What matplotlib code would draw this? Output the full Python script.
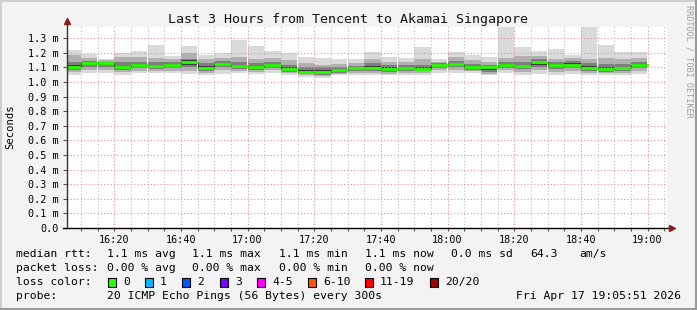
import datetime as dt

import matplotlib
matplotlib.use('Agg')
import matplotlib.dates as mdates
import matplotlib.pyplot as plt
from matplotlib.patches import Rectangle
from matplotlib.lines import Line2D

# 5-minute smoke bars, 16:05 .. 19:00 (values in ms)
rtt_med = [1.100, 1.128, 1.130, 1.100, 1.116, 1.112, 1.119, 1.139, 1.098, 1.125,
           1.112, 1.100, 1.116, 1.087, 1.071, 1.068, 1.082, 1.094, 1.098, 1.087,
           1.098, 1.091, 1.116, 1.123, 1.100, 1.100, 1.116, 1.112, 1.139, 1.116,
           1.116, 1.098, 1.091, 1.098, 1.116]
rtt_max = [1.219, 1.190, 1.160, 1.200, 1.210, 1.253, 1.180, 1.247, 1.185, 1.200,
           1.288, 1.247, 1.210, 1.200, 1.173, 1.166, 1.158, 1.160, 1.203, 1.173,
           1.162, 1.242, 1.155, 1.203, 1.185, 1.173, 1.400, 1.242, 1.212, 1.226,
           1.185, 1.400, 1.253, 1.203, 1.203]
rtt_hi = [1.185, 1.162, 1.150, 1.170, 1.170, 1.165, 1.155, 1.200, 1.160, 1.165,
          1.170, 1.160, 1.165, 1.150, 1.130, 1.120, 1.125, 1.130, 1.160, 1.140,
          1.140, 1.160, 1.140, 1.170, 1.150, 1.140, 1.165, 1.180, 1.180, 1.160,
          1.165, 1.160, 1.165, 1.160, 1.165]
rtt_q3 = [1.140, 1.146, 1.140, 1.135, 1.140, 1.140, 1.140, 1.160, 1.130, 1.145,
          1.140, 1.130, 1.140, 1.120, 1.100, 1.100, 1.105, 1.110, 1.130, 1.115,
          1.120, 1.120, 1.128, 1.145, 1.125, 1.120, 1.135, 1.140, 1.160, 1.140,
          1.145, 1.130, 1.125, 1.125, 1.140]
rtt_chi = [1.115, 1.135, 1.135, 1.110, 1.125, 1.120, 1.125, 1.148, 1.110, 1.130,
           1.120, 1.110, 1.125, 1.105, 1.085, 1.080, 1.090, 1.100, 1.110, 1.100,
           1.105, 1.100, 1.120, 1.130, 1.110, 1.105, 1.122, 1.120, 1.145, 1.125,
           1.130, 1.110, 1.105, 1.105, 1.125]
rtt_clo = [1.092, 1.115, 1.115, 1.092, 1.105, 1.100, 1.105, 1.120, 1.088, 1.112,
           1.100, 1.090, 1.105, 1.080, 1.062, 1.060, 1.072, 1.085, 1.085, 1.078,
           1.088, 1.082, 1.105, 1.110, 1.090, 1.085, 1.105, 1.100, 1.120, 1.105,
           1.105, 1.088, 1.082, 1.088, 1.105]
rtt_q1 = [1.080, 1.100, 1.100, 1.083, 1.095, 1.090, 1.095, 1.100, 1.075, 1.100,
          1.090, 1.080, 1.095, 1.070, 1.055, 1.050, 1.065, 1.075, 1.075, 1.070,
          1.078, 1.075, 1.095, 1.100, 1.085, 1.070, 1.095, 1.090, 1.100, 1.090,
          1.095, 1.075, 1.072, 1.078, 1.095]
rtt_lo = [1.066, 1.080, 1.080, 1.070, 1.075, 1.075, 1.075, 1.075, 1.060, 1.080,
          1.075, 1.070, 1.080, 1.060, 1.045, 1.040, 1.055, 1.060, 1.060, 1.058,
          1.065, 1.062, 1.080, 1.085, 1.075, 1.058, 1.080, 1.070, 1.080, 1.070,
          1.075, 1.060, 1.060, 1.062, 1.075]
rtt_min = [1.045, 1.060, 1.060, 1.050, 1.060, 1.060, 1.060, 1.055, 1.045, 1.055,
           1.060, 1.055, 1.064, 1.048, 1.036, 1.030, 1.045, 1.048, 1.050, 1.048,
           1.050, 1.050, 1.060, 1.064, 1.064, 1.050, 1.060, 1.050, 1.055, 1.050,
           1.055, 1.048, 1.048, 1.050, 1.055]

title = 'Last 3 Hours from Tencent to Akamai Singapore'
loss_labels = ['0', '1', '2', '3', '4-5', '6-10', '11-19', '20/20']
loss_colors = ['#26ff00', '#00b8ff', '#0059ff', '#7e00ff', '#ff00ff', '#ff5500', '#ff0000', '#a10000']

W, H = 697, 310
fig = plt.figure(figsize=(W / 100, H / 100), dpi=100, facecolor='#f3f3f3')


def fx(px):
    return px / W


def fy(py):
    return 1 - py / H


ax = fig.add_axes([fx(67), fy(228), fx(667) - fx(67), fy(27) - fy(228)])
ax.set_facecolor('white')

t_start = dt.datetime(2026, 4, 17, 16, 5, 51)
t_end = dt.datetime(2026, 4, 17, 19, 5, 51)
first_bar = dt.datetime(2026, 4, 17, 16, 5)
edges = [mdates.date2num(first_bar + dt.timedelta(minutes=5 * i)) for i in range(len(rtt_med) + 1)]
width = edges[1] - edges[0]
lefts = edges[:-1]

layers = [(rtt_min, rtt_max, '#dadada'),
          (rtt_lo, rtt_hi, '#b0b0b0'),
          (rtt_q1, rtt_q3, '#7e7e7e'),
          (rtt_clo, rtt_chi, '#3c3c3c')]
for lo, hi, c in layers:
    ax.bar(lefts, [h - l for l, h in zip(lo, hi)], bottom=lo, width=width,
           align='edge', color=c, linewidth=0, zorder=1)

ax.hlines(rtt_med, lefts, edges[1:], color='#26ff00', lw=2.0, zorder=4)
ax.stairs(rtt_med, edges, color='#202020', lw=0.6, baseline=None, zorder=3)

ax.set_xlim(mdates.date2num(t_start), mdates.date2num(t_end))
ax.set_ylim(0, 1.377)

ax.xaxis.set_major_locator(mdates.MinuteLocator(byminute=[0, 20, 40]))
ax.xaxis.set_minor_locator(mdates.MinuteLocator(byminute=range(0, 60, 5)))
ax.xaxis.set_major_formatter(mdates.DateFormatter('%H:%M'))
yt = [i / 10 for i in range(14)]
ax.set_yticks(yt)
ax.set_yticklabels(['0.0'] + ['%.1f m' % v for v in yt[1:]])

ax.grid(which='minor', axis='x', color='#bdbdbd', linestyle=(0, (1, 2)), lw=0.8, zorder=2)
ax.grid(which='major', axis='x', color='#f08c8c', linestyle=(0, (1, 2)), lw=0.8, zorder=2)
ax.grid(which='major', axis='y', color='#f08c8c', linestyle=(0, (1, 2)), lw=0.8, zorder=2)
ax.set_axisbelow(False)

for s in ['top', 'right', 'left', 'bottom']:
    ax.spines[s].set_visible(False)
ax.plot([0, 0], [0, 1.02], transform=ax.transAxes, color='#333333', lw=1, clip_on=False, zorder=5)
ax.plot([-0.007, 1.005], [0, 0], transform=ax.transAxes, color='black', lw=1, clip_on=False, zorder=5)
ax.plot([0], [1.03], marker='^', ms=5, color='#8b1a1a', transform=ax.transAxes, clip_on=False, zorder=6)
ax.plot([1.008], [0], marker='>', ms=5, color='#8b1a1a', transform=ax.transAxes, clip_on=False, zorder=6)

mono = 'DejaVu Sans Mono'
ax.tick_params(axis='y', length=3, width=0.8, color='#555555', labelsize=7.3, pad=3)
ax.tick_params(axis='x', which='both', length=2, width=0.8, color='#555555', labelsize=7.3, pad=3)
for lab in ax.get_xticklabels() + ax.get_yticklabels():
    lab.set_fontfamily(mono)

fig.text(fx(348), fy(19), title, family=mono, fontsize=9.6, ha='center', va='center', color='#111111')
fig.text(fx(10), fy(127), 'Seconds', family=mono, fontsize=7.6, rotation=90, ha='center', va='center')
fig.text(fx(689), fy(5), 'RRDTOOL / TOBI OETIKER', family=mono, fontsize=6.1, rotation=270,
         ha='center', va='top', color='#a0a0a0')

fs = 8.2
rows = [254, 268, 282, 296]
fig.text(fx(16), fy(rows[0]), 'median rtt:', family=mono, fontsize=fs, va='center')
for xp, s in [(107, '1.1 ms avg'), (192, '1.1 ms max'), (279, '1.1 ms min'),
              (365, '1.1 ms now'), (451, '0.0 ms sd'), (530, '64.3'), (579, 'am/s')]:
    fig.text(fx(xp), fy(rows[0]), s, family=mono, fontsize=fs, va='center')
fig.text(fx(16), fy(rows[1]), 'packet loss:', family=mono, fontsize=fs, va='center')
for xp, s in [(107, '0.00 % avg'), (192, '0.00 % max'), (279, '0.00 % min'), (365, '0.00 % now')]:
    fig.text(fx(xp), fy(rows[1]), s, family=mono, fontsize=fs, va='center')
fig.text(fx(16), fy(rows[2]), 'loss color:', family=mono, fontsize=fs, va='center')
box_x = [108, 145, 182, 220, 257, 308, 365, 430]
for bx, lab, c in zip(box_x, loss_labels, loss_colors):
    fig.patches.append(Rectangle((fx(bx), fy(rows[2] + 4.5)), fx(8), 9 / H, transform=fig.transFigure,
                                 facecolor=c, edgecolor='black', lw=0.8))
    fig.text(fx(bx + 15), fy(rows[2]), lab, family=mono, fontsize=fs, va='center')
fig.text(fx(16), fy(rows[3]), 'probe:', family=mono, fontsize=fs, va='center')
fig.text(fx(107), fy(rows[3]), '20 ICMP Echo Pings (56 Bytes) every 300s', family=mono, fontsize=fs, va='center')
fig.text(fx(681), fy(rows[3]), 'Fri Apr 17 19:05:51 2026', family=mono, fontsize=fs, va='center', ha='right')

# 3d-ish frame around the picture
fig.lines.append(Line2D([0, 1], [fy(0.5), fy(0.5)], transform=fig.transFigure, color='#cfcfcf', lw=1.5))
fig.lines.append(Line2D([fx(0.5), fx(0.5)], [0, 1], transform=fig.transFigure, color='#cfcfcf', lw=1.5))
fig.lines.append(Line2D([0, 1], [fy(309), fy(309)], transform=fig.transFigure, color='#9a9a9a', lw=1.5))
fig.lines.append(Line2D([fx(696), fx(696)], [0, 1], transform=fig.transFigure, color='#9a9a9a', lw=1.5))

fig.savefig('out.png', dpi=100, facecolor=fig.get_facecolor())
